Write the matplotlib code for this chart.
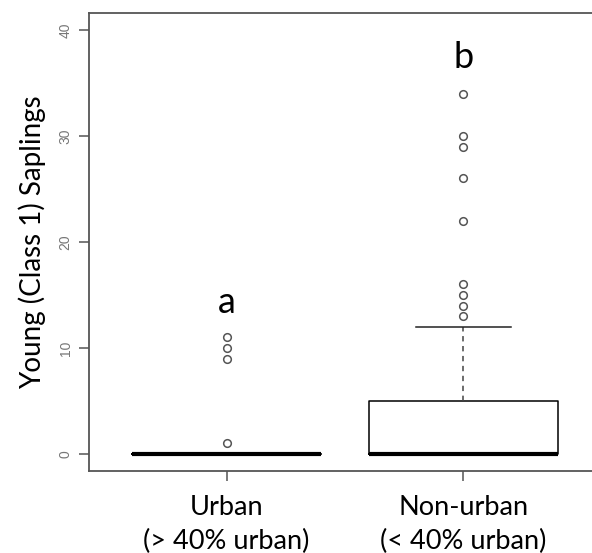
import matplotlib
matplotlib.use("Agg")
import matplotlib.pyplot as plt

# ---- data ----
groups = ["Urban\n(> 40% urban)", "Non-urban\n(< 40% urban)"]
medians = [0, 0]
q1s = [0, 0]
q3s = [0, 5]
whisk_lo = [0, 0]
whisk_hi = [0, 12]
outliers = [[1, 9, 10, 11], [13, 14, 15, 16, 22, 26, 29, 30, 34]]
letters = ["a", "b"]
letter_y = [14.3, 37.4]
yticks = [0, 10, 20, 30, 40]
ylabel = "Young (Class 1) Saplings"

plt.rcParams['font.family'] = ['Lato', 'DejaVu Sans']

fig = plt.figure(figsize=(5.92, 5.53), dpi=100)
ax = fig.add_axes([0.1508, 0.1483, 0.8637, 0.8282])

stats = []
for i in range(len(groups)):
    stats.append(dict(med=medians[i], q1=q1s[i], q3=q3s[i],
                      whislo=whisk_lo[i], whishi=whisk_hi[i],
                      fliers=outliers[i], label=groups[i]))

pos = [1, 2]
ax.bxp(stats, positions=pos, widths=0.8, capwidths=0.4,
       boxprops=dict(color='black', linewidth=1.1),
       medianprops=dict(color='black', linewidth=3.0, solid_capstyle='butt'),
       whiskerprops=dict(color='#444444', linewidth=1.1, linestyle=(0, (3.5, 3))),
       capprops=dict(color='#222222', linewidth=1.1),
       flierprops=dict(marker='o', markersize=5.5, markerfacecolor='none',
                       markeredgecolor='#555555', markeredgewidth=1.1),
       manage_ticks=False)

for p, l, y in zip(pos, letters, letter_y):
    ax.text(p, y, l, ha='center', va='center', fontsize=26, color='black')

ax.set_xlim(0.42, 2.58)
ax.set_ylim(-1.6, 41.6)
ax.set_xticks(pos)
ax.set_xticklabels(groups, fontsize=19.5, linespacing=1.45)
ax.set_yticks(yticks)
ax.set_yticklabels([str(t) for t in yticks], rotation=90, va='center',
                   fontsize=10, color='#777777', family='Liberation Sans')
ax.set_ylabel(ylabel, fontsize=20, labelpad=9)

for s in ax.spines.values():
    s.set_color('#555555')
    s.set_linewidth(1.3)
ax.tick_params(axis='both', length=7, width=1.1, color='#555555')
ax.tick_params(axis='x', pad=10)
ax.tick_params(axis='y', pad=5)

fig.savefig("out.png", dpi=100)
